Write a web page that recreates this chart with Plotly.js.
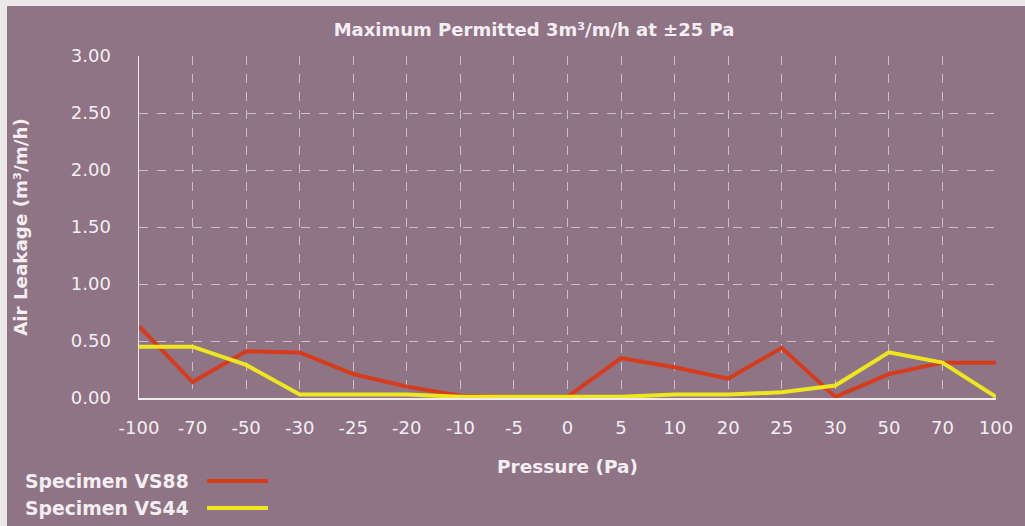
<!DOCTYPE html>
<html>
<head>
<meta charset="utf-8">
<script src="https://cdn.plot.ly/plotly-3.0.1.min.js"></script>
<style>
  html, body { margin: 0; padding: 0; background: #ece8ea; }
  #chart { position: absolute; left: 7px; top: 6px; width: 1018px; height: 520px; }
</style>
</head>
<body>
<div id="chart"></div>
<script>
const pressures = ['-100','-70','-50','-30','-25','-20','-10','-5','0','5','10','20','25','30','50','70','100'];
const vs88 = [0.63, 0.14, 0.41, 0.40, 0.21, 0.10, 0.02, 0.01, 0.01, 0.35, 0.27, 0.17, 0.44, 0.01, 0.21, 0.31, 0.31];
const vs44 = [0.45, 0.45, 0.29, 0.03, 0.03, 0.03, 0.01, 0.01, 0.01, 0.01, 0.03, 0.03, 0.05, 0.11, 0.40, 0.31, 0.01];
const yTicks = [0, 0.5, 1, 1.5, 2, 2.5, 3];
const yTickText = ['0.00','0.50','1.00','1.50','2.00','2.50','3.00'];
const seriesNames = ['Specimen VS88', 'Specimen VS44'];
const seriesColors = ['#d63c1c', '#eee61e'];

const font = {family: 'DejaVu Sans, Liberation Sans, Arial, sans-serif', color: '#f4eef2'};
const boldFont = (size) => Object.assign({}, font, {size: size, weight: 'bold'});

const traces = [
  {x: pressures, y: vs88, name: seriesNames[0], type: 'scatter', mode: 'lines',
   line: {color: seriesColors[0], width: 4}},
  {x: pressures, y: vs44, name: seriesNames[1], type: 'scatter', mode: 'lines',
   line: {color: seriesColors[1], width: 4}}
];

// legend drawn as text + line in paper coordinates (page px converted)
const plotL = 139, plotR = 996, plotT = 56, plotB = 398;
const px = (X) => (X - plotL) / (plotR - plotL);
const py = (Y) => (plotB - Y) / (plotB - plotT);
const legendY = [481, 508];
const annotations = [];
const shapes = [];
seriesNames.forEach((n, i) => {
  annotations.push({
    text: n, xref: 'paper', yref: 'paper',
    x: px(23), y: py(legendY[i]), xanchor: 'left', yanchor: 'middle', showarrow: false,
    font: boldFont(18.8)
  });
  shapes.push({
    type: 'line', xref: 'paper', yref: 'paper',
    x0: px(207), x1: px(268), y0: py(legendY[i]), y1: py(legendY[i]),
    line: {color: seriesColors[i], width: 4}
  });
});

const W = 1018, H = 520;
const layout = {
  width: W, height: H,
  paper_bgcolor: '#8e7484', plot_bgcolor: 'rgba(0,0,0,0)',
  margin: {l: 132, r: 29, t: 50, b: 128},
  showlegend: false,
  font: font,
  title: {
    text: 'Maximum Permitted 3m³/m/h at ±25 Pa',
    xref: 'container', yref: 'container', x: 527 / W, y: 1 - 24 / H,
    xanchor: 'center', yanchor: 'middle',
    font: boldFont(18)
  },
  xaxis: {
    type: 'category', range: [0, 16],
    showgrid: true, gridcolor: 'rgba(255,255,255,0.55)', griddash: 'dash', gridwidth: 1,
    showline: true, linecolor: 'rgba(255,255,255,0.85)', linewidth: 1.5,
    ticks: 'outside', ticklen: 13, tickcolor: 'rgba(0,0,0,0)',
    tickfont: Object.assign({}, font, {size: 18}),
    title: {text: 'Pressure (Pa)', font: boldFont(18.5), standoff: 23},
    fixedrange: true
  },
  yaxis: {
    range: [0, 3], tickvals: yTicks, ticktext: yTickText,
    showgrid: true, gridcolor: 'rgba(255,255,255,0.55)', griddash: 'dash', gridwidth: 1,
    zeroline: false,
    showline: true, linecolor: 'rgba(255,255,255,0.85)', linewidth: 1.5,
    ticks: 'outside', ticklen: 23, tickcolor: 'rgba(0,0,0,0)',
    tickfont: Object.assign({}, font, {size: 18}),
    title: {text: 'Air Leakage (m³/m/h)', font: boldFont(18.3), standoff: 38},
    fixedrange: true
  },
  annotations: annotations,
  shapes: shapes
};

Plotly.newPlot('chart', traces, layout, {displayModeBar: false, staticPlot: true});
</script>
</body>
</html>
